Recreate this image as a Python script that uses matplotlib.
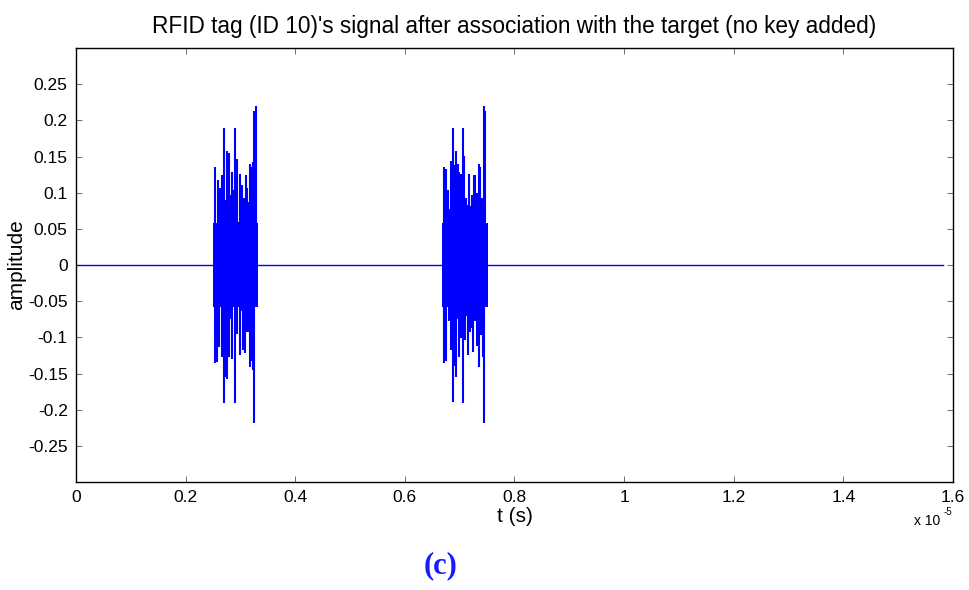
import numpy as np
import matplotlib
matplotlib.use("Agg")
import matplotlib.pyplot as plt

plt.rcParams['font.family'] = ['Liberation Sans', 'DejaVu Sans']

# time axis in units of 1e-5 s
t_span = [0.0, 1.582]

# dense core of each burst: start, end (1e-5 s) and half-height
burst1_core = [0.2505, 0.3326]
burst2_core = [0.6672, 0.7511]
core_amp = 0.058

# spike peaks, burst 1
b1_up_t = [0.2536, 0.2597, 0.2621, 0.2670, 0.2706, 0.2731, 0.2761, 0.2791, 0.2816,
           0.2840, 0.2870, 0.2901, 0.2931, 0.2962, 0.2998, 0.3023, 0.3059, 0.3096,
           0.3120, 0.3144, 0.3175, 0.3205, 0.3235, 0.3254, 0.3284]
b1_up_a = [0.136, 0.117, 0.106, 0.124, 0.190, 0.090, 0.158, 0.155, 0.097,
           0.129, 0.104, 0.190, 0.147, 0.060, 0.126, 0.110, 0.092, 0.124,
           0.106, 0.087, 0.140, 0.136, 0.142, 0.213, 0.220]
b1_lo_t = [0.2536, 0.2566, 0.2609, 0.2670, 0.2700, 0.2731, 0.2761, 0.2791, 0.2822,
           0.2852, 0.2901, 0.2931, 0.2992, 0.3023, 0.3053, 0.3084, 0.3114, 0.3144,
           0.3175, 0.3205, 0.3235, 0.3254]
b1_lo_a = [-0.136, -0.134, -0.113, -0.127, -0.191, -0.155, -0.157, -0.127, -0.075,
           -0.130, -0.191, -0.095, -0.125, -0.064, -0.118, -0.122, -0.092, -0.092,
           -0.141, -0.132, -0.145, -0.219]

# burst 2
b2_up_t = [0.6721, 0.6751, 0.6782, 0.6806, 0.6843, 0.6873, 0.6904, 0.6934, 0.6965,
           0.6995, 0.7020, 0.7056, 0.7087, 0.7111, 0.7136, 0.7166, 0.7197, 0.7227,
           0.7257, 0.7288, 0.7318, 0.7349, 0.7379, 0.7410, 0.7440, 0.7470]
b2_up_a = [0.136, 0.133, 0.104, 0.078, 0.144, 0.190, 0.138, 0.158, 0.140,
           0.129, 0.126, 0.190, 0.151, 0.092, 0.083, 0.126, 0.081, 0.097,
           0.124, 0.124, 0.099, 0.140, 0.136, 0.092, 0.220, 0.213]
b2_lo_t = [0.6721, 0.6751, 0.6806, 0.6843, 0.6873, 0.6904, 0.6934, 0.6965, 0.6995,
           0.7026, 0.7062, 0.7099, 0.7130, 0.7160, 0.7191, 0.7221, 0.7251, 0.7288,
           0.7318, 0.7355, 0.7391, 0.7422, 0.7440]
b2_lo_a = [-0.136, -0.132, -0.078, -0.118, -0.189, -0.139, -0.155, -0.075, -0.127,
           -0.101, -0.191, -0.104, -0.071, -0.125, -0.092, -0.087, -0.120, -0.078,
           -0.112, -0.141, -0.097, -0.127, -0.219]

x_ticks = [0, 0.2, 0.4, 0.6, 0.8, 1.0, 1.2, 1.4, 1.6]
y_ticks = [-0.25, -0.2, -0.15, -0.1, -0.05, 0, 0.05, 0.1, 0.15, 0.2, 0.25]

blue = '#0000ff'

fig = plt.figure(figsize=(9.69, 5.90), dpi=100)
ax = fig.add_axes([0.0784, 0.183, 0.905, 0.7356])

ax.plot(t_span, [0, 0], color=blue, lw=1.0)
for core in (burst1_core, burst2_core):
    ax.fill_between(core, [-core_amp, -core_amp], [core_amp, core_amp],
                    color=blue, lw=0)
for ts, amps in ((b1_up_t, b1_up_a), (b1_lo_t, b1_lo_a),
                 (b2_up_t, b2_up_a), (b2_lo_t, b2_lo_a)):
    ax.vlines(ts, 0, amps, color=blue, lw=1.5)

ax.set_xlim(0, 1.6)
ax.set_ylim(-0.3, 0.3)
ax.set_xticks(x_ticks)
ax.set_xticklabels(['%g' % v for v in x_ticks])
ax.set_yticks(y_ticks)
ax.set_yticklabels(['%g' % v for v in y_ticks])
ax.tick_params(direction='in', length=4, width=0.6, color='#555555',
               top=True, right=True, labelsize=12.5, pad=6)
for s in ax.spines.values():
    s.set_linewidth(1.0)

ax.set_title("RFID tag (ID 10)'s signal after association with the target (no key added)",
             fontsize=16.3, pad=11)
ax.set_xlabel('t (s)', fontsize=15, labelpad=1)
ax.set_ylabel('amplitude', fontsize=15, labelpad=1)
fig.text(0.943, 0.117, 'x 10', fontsize=10, ha='left', va='center')
fig.text(0.974, 0.132, '-5', fontsize=7, ha='left', va='center')

fig.text(0.455, 0.042, '(c)', fontsize=22, fontweight='bold', color='#1a1aff',
         family=['Liberation Serif', 'DejaVu Serif'], ha='center', va='center')

fig.savefig('out.png', dpi=100)
